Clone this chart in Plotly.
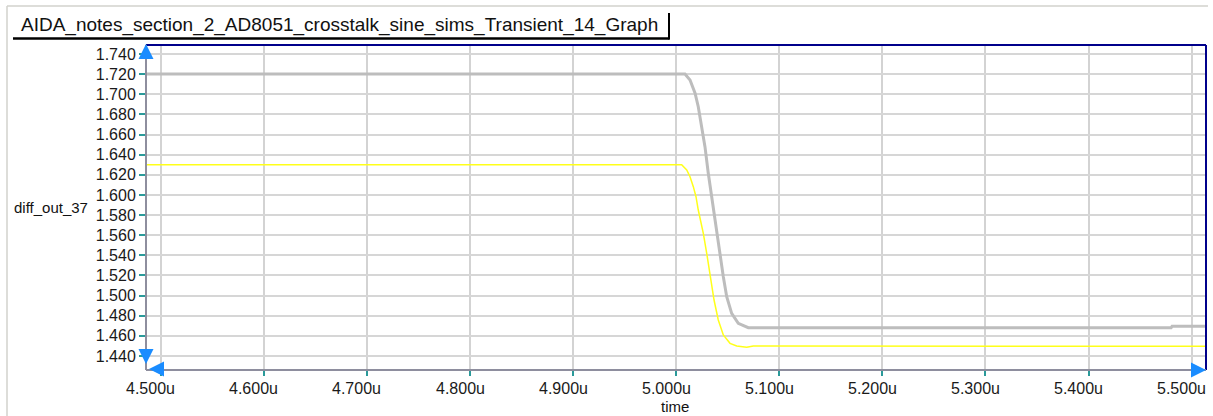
import plotly.graph_objects as go

# Transient result for diff_out_37 (time in microseconds, volts)
gray_t = [4.485, 5.0085, 5.0134, 5.0183, 5.0214, 5.0247, 5.0279, 5.0311, 5.0344,
          5.0360, 5.0393, 5.0425, 5.0457, 5.0490, 5.0538, 5.0602, 5.0699,
          5.4800, 5.4810, 5.515]
gray_v = [1.720, 1.720, 1.7142, 1.7010, 1.6876, 1.6678, 1.6479, 1.6215, 1.5982,
          1.5850, 1.5619, 1.5386, 1.5188, 1.4989, 1.4824, 1.4725, 1.4681,
          1.4680, 1.4695, 1.4695]

yellow_t = [4.485, 5.0053, 5.0102, 5.0134, 5.0166, 5.0192, 5.0214, 5.0263, 5.0296,
            5.0328, 5.0367, 5.0408, 5.0457, 5.0522, 5.0587, 5.0684, 5.0748, 5.515]
yellow_v = [1.630, 1.630, 1.6248, 1.6181, 1.6082, 1.5982, 1.5850, 1.5619, 1.5420,
            1.5188, 1.4956, 1.4758, 1.4609, 1.4526, 1.4499, 1.4486, 1.4499, 1.4497]

x_ticks = [4.5, 4.6, 4.7, 4.8, 4.9, 5.0, 5.1, 5.2, 5.3, 5.4, 5.5]
x_labels = [f"{v:.3f}u" for v in x_ticks]
y_ticks = [1.44, 1.46, 1.48, 1.50, 1.52, 1.54, 1.56, 1.58, 1.60, 1.62, 1.64,
           1.66, 1.68, 1.70, 1.72, 1.74]
y_labels = [f"{v:.3f}" for v in y_ticks]

title_text = "AIDA_notes_section_2_AD8051_crosstalk_sine_sims_Transient_14_Graph"
y_name = "diff_out_37"
x_name = "time"

W, H = 1213, 416
L, R, T, B = 146, 7, 45, 46
PW, PH = W - L - R, H - T - B


def px(x):
    return (x - L) / PW


def py(y):
    return (H - B - y) / PH


FONT = "Liberation Sans, Arial, sans-serif"

fig = go.Figure()
fig.add_trace(go.Scatter(x=gray_t, y=gray_v, mode="lines",
                         line=dict(color="#bdbdbd", width=3), showlegend=False))
fig.add_trace(go.Scatter(x=yellow_t, y=yellow_v, mode="lines",
                         line=dict(color="#ffff1a", width=1.5), showlegend=False))

shapes = []
# page frame
shapes.append(dict(type="line", xref="paper", yref="paper", x0=px(7), x1=px(1208),
                   y0=py(6), y1=py(6), line=dict(color="#d2d2cc", width=1.5)))
shapes.append(dict(type="line", xref="paper", yref="paper", x0=px(7), x1=px(7),
                   y0=py(6), y1=py(416), line=dict(color="#d2d2cc", width=1.5)))
# title tab
shapes.append(dict(type="line", xref="paper", yref="paper", x0=px(13), x1=px(669.5),
                   y0=py(38.5), y1=py(38.5), line=dict(color="#000000", width=2.5)))
shapes.append(dict(type="line", xref="paper", yref="paper", x0=px(669), x1=px(669),
                   y0=py(13), y1=py(39.5), line=dict(color="#000000", width=2)))
# plot frame
shapes.append(dict(type="line", xref="paper", yref="paper", x0=0, x1=1, y0=1, y1=1,
                   line=dict(color="#00008b", width=2)))
shapes.append(dict(type="line", xref="paper", yref="paper", x0=1, x1=1, y0=0, y1=1,
                   line=dict(color="#00008b", width=2)))
shapes.append(dict(type="line", xref="paper", yref="paper", x0=0, x1=0, y0=0, y1=1,
                   line=dict(color="#8e8e9e", width=2)))
shapes.append(dict(type="line", xref="paper", yref="paper", x0=0, x1=1, y0=0, y1=0,
                   line=dict(color="#8e8e9e", width=2)))

ARROW = "#1a8cff"
annotations = [
    dict(text=title_text, xref="paper", yref="paper", x=px(19), y=py(25),
         xanchor="left", yanchor="middle", showarrow=False,
         font=dict(family=FONT, size=19, color="#111111")),
    dict(text=y_name, xref="paper", yref="paper", x=px(12), y=py(208),
         xanchor="left", yanchor="middle", showarrow=False,
         font=dict(family=FONT, size=15, color="#111111")),
    dict(text=x_name, xref="paper", yref="paper", x=px(675), y=py(406),
         xanchor="center", yanchor="middle", showarrow=False,
         font=dict(family=FONT, size=15, color="#111111")),
    # axis end markers
    dict(text="", xref="paper", yref="paper", x=0, y=py(44), ax=0, ay=15,
         showarrow=True, arrowhead=2, arrowsize=1, arrowwidth=3, arrowcolor=ARROW),
    dict(text="", xref="paper", yref="paper", x=0, y=py(364), ax=0, ay=-12,
         showarrow=True, arrowhead=2, arrowsize=1, arrowwidth=3, arrowcolor=ARROW),
    dict(text="", xref="paper", yref="paper", x=px(149), y=py(369), ax=14, ay=0,
         showarrow=True, arrowhead=2, arrowsize=1, arrowwidth=3, arrowcolor=ARROW),
    dict(text="", xref="paper", yref="paper", x=px(1206), y=0, ax=-14, ay=0,
         showarrow=True, arrowhead=2, arrowsize=1, arrowwidth=3, arrowcolor=ARROW),
]
# time tick labels sit slightly left of their tick marks
for tv, tl in zip(x_ticks, x_labels):
    annotations.append(dict(text=tl, xref="x", yref="paper", x=tv, y=py(388),
                            xanchor="center", yanchor="middle", xshift=-10,
                            showarrow=False,
                            font=dict(family=FONT, size=16, color="#1a1a1a")))

fig.update_layout(
    width=W, height=H,
    margin=dict(l=L, r=R, t=T, b=B, pad=0),
    paper_bgcolor="white", plot_bgcolor="white",
    shapes=shapes, annotations=annotations,
    showlegend=False,
)
fig.update_xaxes(range=[4.4857, 5.5139], tickvals=x_ticks, showticklabels=False,
                 showgrid=True, gridcolor="#d3d3d3", gridwidth=2, zeroline=False,
                 showline=False, ticks="outside", ticklen=5, tickwidth=1.5,
                 tickcolor="#2a9a9a")
fig.update_yaxes(range=[1.4261, 1.7489], tickvals=y_ticks, ticktext=y_labels,
                 showgrid=True, gridcolor="#d6d6d6", gridwidth=2, zeroline=False,
                 showline=False, ticks="outside", ticklen=6, tickwidth=1.5,
                 tickcolor="#2a9a9a", ticklabeloverflow="allow",
                 tickfont=dict(family=FONT, size=16, color="#1a1a1a"))

fig.write_html("out.html")
